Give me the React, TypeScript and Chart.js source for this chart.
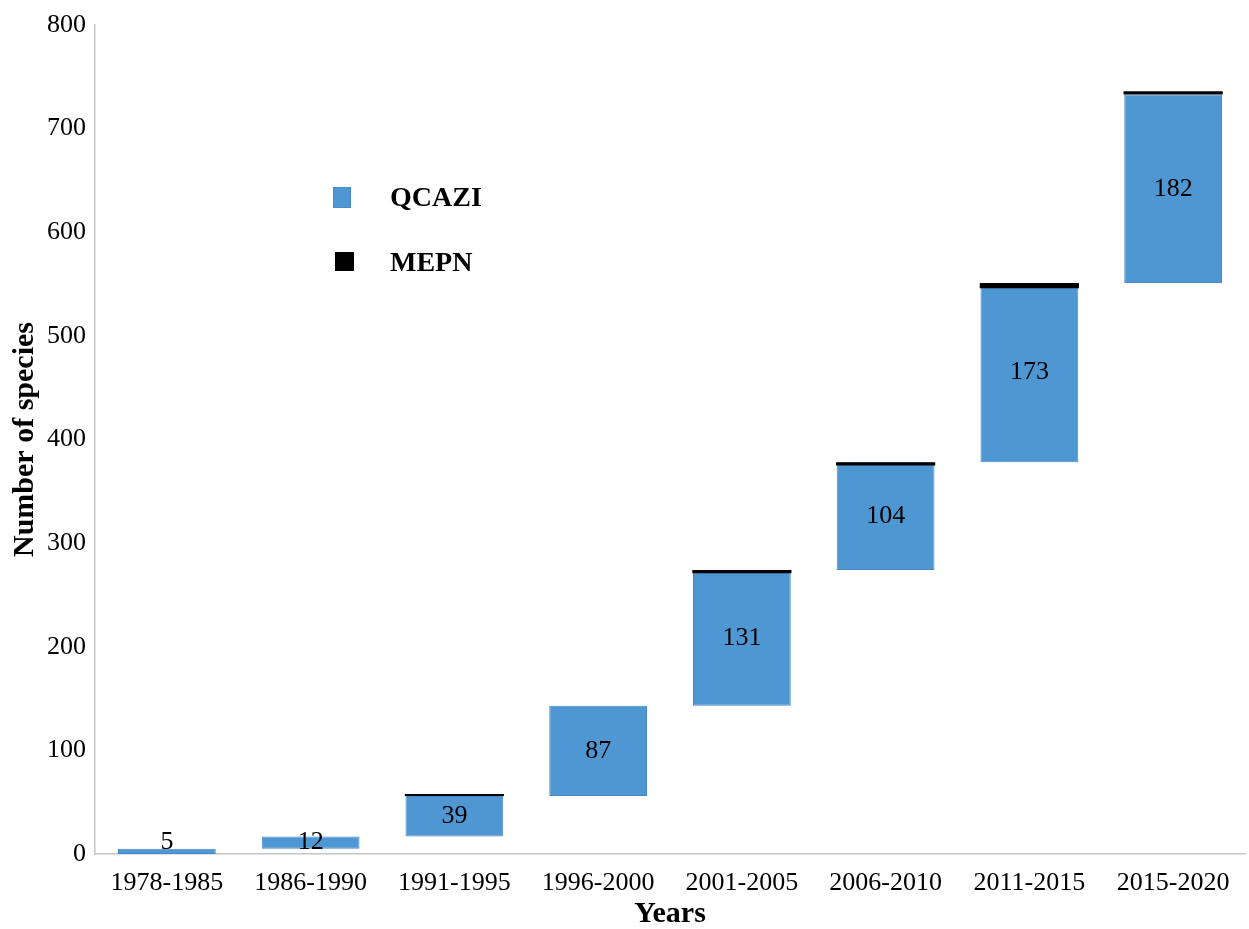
import React, { useEffect, useRef } from 'react';
import { Chart, registerables } from 'chart.js';

Chart.register(...registerables);

const categories = ['1978-1985', '1986-1990', '1991-1995', '1996-2000', '2001-2005', '2006-2010', '2011-2015', '2015-2020'];
const qcaziAdded = [5, 12, 39, 87, 131, 104, 173, 182];
const mepnLow = [null, null, 56, null, 271, 375, 546, 733];
const mepnHigh = [null, null, 58, null, 274, 378, 551, 736];
const yTickValues = [0, 100, 200, 300, 400, 500, 600, 700, 800];

const FONT = '"Liberation Serif", "Times New Roman", serif';
const BLUE = '#4F97D3';
const BLUE_EDGE = '#4A88C6';

export default function App() {
  const ref = useRef<HTMLCanvasElement | null>(null);

  useEffect(() => {
    if (!ref.current) return;
    let acc = 0;
    const qcaziRanges = qcaziAdded.map((v) => {
      const r = [acc, acc + v];
      acc += v;
      return r;
    });
    const mepnRanges = mepnLow.map((lo, i) => (lo === null ? null : [lo, mepnHigh[i] as number]));

    const labelPlugin = {
      id: 'barLabels',
      afterDatasetsDraw(chart: any) {
        const ctx = chart.ctx;
        const meta = chart.getDatasetMeta(1);
        const bottom = chart.chartArea.bottom;
        ctx.save();
        ctx.font = `26px ${FONT}`;
        ctx.fillStyle = '#000';
        ctx.textAlign = 'center';
        ctx.textBaseline = 'middle';
        meta.data.forEach((el: any, i: number) => {
          let y = (el.y + el.base) / 2;
          if (y > bottom - 12) y = bottom - 12;
          ctx.fillText(String(qcaziAdded[i]), el.x, y);
        });
        ctx.restore();
      },
    };

    const legendPlugin = {
      id: 'customLegend',
      afterDraw(chart: any) {
        const ctx = chart.ctx;
        const { left, top } = chart.chartArea;
        const ds = chart.data.datasets;
        ctx.save();
        ctx.font = `bold 28px ${FONT}`;
        ctx.textBaseline = 'middle';
        ctx.textAlign = 'left';
        // QCAZI
        ctx.fillStyle = ds[1].backgroundColor;
        ctx.fillRect(left + 238, top + 162, 18, 21);
        ctx.strokeStyle = BLUE_EDGE;
        ctx.lineWidth = 1;
        ctx.strokeRect(left + 238.5, top + 162.5, 17, 20);
        ctx.fillStyle = '#000';
        ctx.fillText(ds[1].label, left + 295, top + 174);
        // MEPN
        ctx.fillStyle = ds[0].backgroundColor;
        ctx.fillRect(left + 240, top + 227, 19, 19);
        ctx.fillStyle = '#000';
        ctx.fillText(ds[0].label, left + 295, top + 239);
        ctx.restore();
      },
    };

    const chart = new Chart(ref.current, {
      type: 'bar',
      data: {
        labels: categories,
        datasets: [
          {
            label: 'MEPN',
            data: mepnRanges as any,
            backgroundColor: '#000000',
            borderWidth: 0,
            grouped: false,
            barPercentage: 0.69,
            categoryPercentage: 1,
          },
          {
            label: 'QCAZI',
            data: qcaziRanges as any,
            backgroundColor: BLUE,
            borderColor: BLUE_EDGE,
            borderWidth: 1,
            borderSkipped: false,
            grouped: false,
            barPercentage: 0.68,
            categoryPercentage: 1,
          },
        ],
      },
      options: {
        responsive: false,
        animation: false,
        layout: { padding: { top: 25, right: 4, left: 0, bottom: 0 } },
        plugins: {
          legend: { display: false },
          tooltip: { enabled: false },
        },
        scales: {
          x: {
            grid: { display: false, drawTicks: false },
            border: { display: true, color: '#c6c6c6', width: 1.5 },
            ticks: { color: '#000', font: { family: FONT, size: 26 }, padding: 14, maxRotation: 0, autoSkip: false },
            title: {
              display: true,
              text: 'Years',
              color: '#000',
              font: { family: FONT, size: 30, weight: 'bold', lineHeight: 1 },
              padding: { top: 0, bottom: 0 },
            },
            afterFit(scale: any) {
              scale.height = 75;
            },
          },
          y: {
            min: 0,
            max: 800,
            afterBuildTicks(scale: any) {
              scale.ticks = yTickValues.map((v) => ({ value: v }));
            },
            grid: { display: false, drawTicks: false },
            border: { display: true, color: '#c6c6c6', width: 1.5 },
            ticks: { color: '#000', font: { family: FONT, size: 26 }, padding: 9 },
            title: {
              display: true,
              text: 'Number of species',
              color: '#000',
              font: { family: FONT, size: 30, weight: 'bold', lineHeight: 1 },
              padding: { top: 10, bottom: 0 },
            },
            afterFit(scale: any) {
              scale.width = 95;
            },
          },
        },
      },
      plugins: [labelPlugin, legendPlugin],
    });
    return () => chart.destroy();
  }, []);

  return (
    <div style={{ position: 'fixed', left: 0, top: 0, width: 1249, height: 929, background: '#fff' }}>
      <canvas ref={ref} width={1249} height={929} style={{ display: 'block', width: 1249, height: 929 }} />
    </div>
  );
}
